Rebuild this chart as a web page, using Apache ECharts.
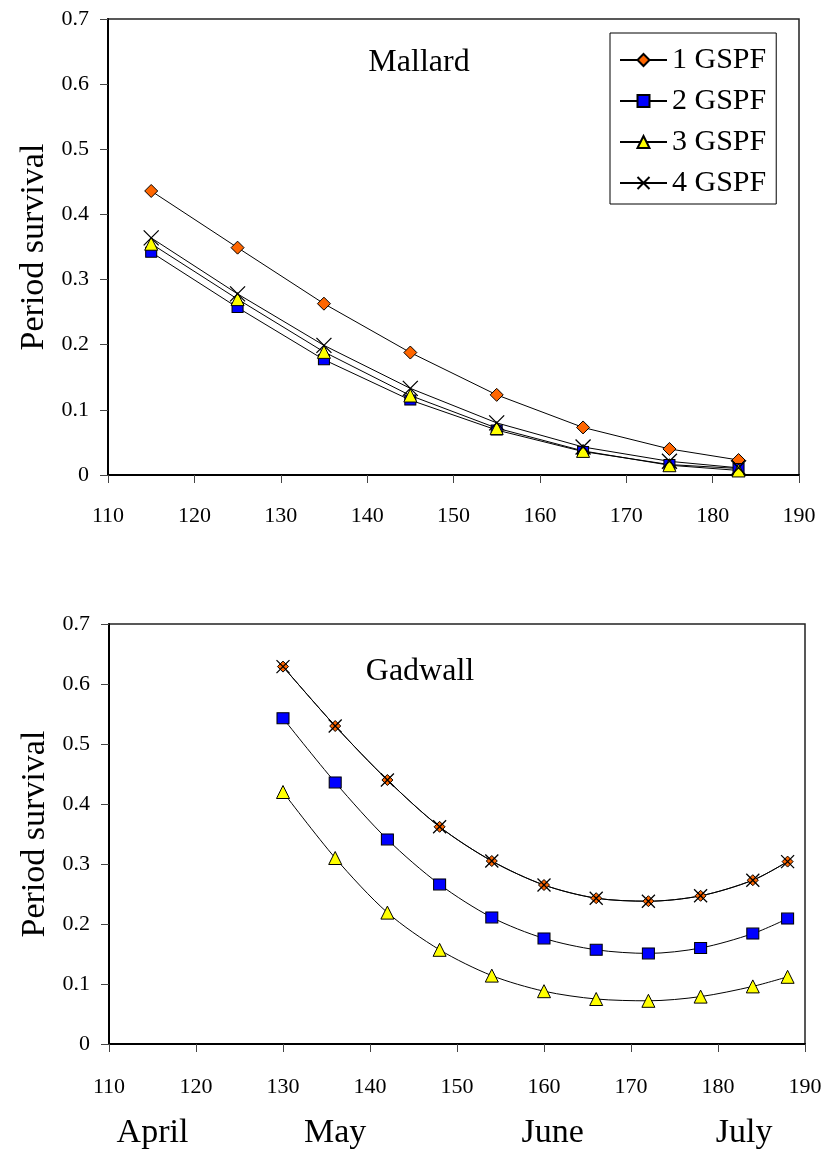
<!DOCTYPE html>
<html>
<head>
<meta charset="utf-8">
<script src="https://cdn.jsdelivr.net/npm/echarts@6/dist/echarts.min.js"></script>
<style>
html,body{margin:0;padding:0;background:#fff;}
#chart{width:825px;height:1163px;}
</style>
</head>
<body>
<div id="chart"></div>
<script>
// ---- data ----
var seriesNames = ['1 GSPF', '2 GSPF', '3 GSPF', '4 GSPF'];

var mallardDays = [115, 125, 135, 145, 155, 165, 175, 183];
var mallard1 = [0.436, 0.349, 0.263, 0.188, 0.123, 0.073, 0.040, 0.023];
var mallard2 = [0.342, 0.257, 0.177, 0.115, 0.069, 0.036, 0.016, 0.010];
var mallard3 = [0.355, 0.270, 0.189, 0.122, 0.072, 0.037, 0.015, 0.007];
var mallard4 = [0.364, 0.278, 0.199, 0.133, 0.080, 0.043, 0.021, 0.011];

var gadwallDays = [130, 136, 142, 148, 154, 160, 166, 172, 178, 184, 188];
var gadwall1 = [0.629, 0.530, 0.440, 0.362, 0.305, 0.265, 0.243, 0.238, 0.247, 0.273, 0.304];
var gadwall2 = [0.543, 0.436, 0.341, 0.266, 0.211, 0.176, 0.157, 0.151, 0.160, 0.184, 0.209];
var gadwall3 = [0.420, 0.310, 0.219, 0.157, 0.114, 0.088, 0.075, 0.072, 0.079, 0.096, 0.112];
var gadwall4 = [0.629, 0.530, 0.440, 0.362, 0.305, 0.265, 0.243, 0.238, 0.247, 0.273, 0.304];

var xTicks = [110, 120, 130, 140, 150, 160, 170, 180, 190];
var yTicks = [0, 0.1, 0.2, 0.3, 0.4, 0.5, 0.6, 0.7];

var monthNames = ['April', 'May', 'June', 'July'];
var monthDays = [115, 136, 161, 183];

var panelTitles = ['Mallard', 'Gadwall'];
var yAxisTitle = 'Period survival';

// ---- chart ----
var FONT = '"Liberation Serif", "Times New Roman", serif';
var XMARK = 'path://M0,0L10,10M10,0L0,10';

function pairs(xs, ys) { return xs.map(function (x, i) { return [x, ys[i]]; }); }

var styles = [
  { symbol: 'diamond', color: '#FF6600' },
  { symbol: 'rect', color: '#0000FF' },
  { symbol: 'triangle', color: '#FFFF00' },
  { symbol: XMARK, color: '#000000' }
];
var mallardSizes = [13, [11, 10], 13, 15];
var gadwallSizes = [11, [12, 11], 13, 13];

function mkSeries(name, idx, data, grid, sizes, smooth) {
  var st = styles[idx];
  return {
    name: name,
    type: 'line',
    xAxisIndex: grid,
    yAxisIndex: grid,
    data: data,
    smooth: smooth,
    symbol: st.symbol,
    symbolSize: sizes[idx],
    showSymbol: true,
    showAllSymbol: true,
    animation: false,
    lineStyle: { color: '#000', width: 1 },
    itemStyle: { color: st.color, borderColor: '#000', borderWidth: idx === 3 ? 1.3 : 1 },
    emphasis: { disabled: true }
  };
}

var mallardData = [mallard1, mallard2, mallard3, mallard4];
var gadwallData = [gadwall1, gadwall2, gadwall3, gadwall4];
var series = [];
seriesNames.forEach(function (n, i) { series.push(mkSeries(n, i, pairs(mallardDays, mallardData[i]), 0, mallardSizes, false)); });
seriesNames.forEach(function (n, i) { series.push(mkSeries(n, i, pairs(gadwallDays, gadwallData[i]), 1, gadwallSizes, 0.3)); });

function xAxisCfg(grid, margin) {
  return {
    type: 'value', gridIndex: grid, min: xTicks[0], max: xTicks[xTicks.length - 1],
    interval: xTicks[1] - xTicks[0],
    axisLine: { show: true, onZero: false, lineStyle: { color: '#000', width: 2 } },
    axisTick: { show: true, inside: false, length: 8, lineStyle: { color: '#444', width: 1 } },
    splitLine: { show: false },
    axisLabel: { color: '#000', fontFamily: FONT, fontSize: 22, margin: margin }
  };
}
function yAxisCfg(grid) {
  return {
    type: 'value', gridIndex: grid, min: yTicks[0], max: yTicks[yTicks.length - 1],
    interval: 0.1,
    name: yAxisTitle, nameLocation: 'middle', nameRotate: 90, nameGap: 54,
    nameTextStyle: { color: '#000', fontFamily: FONT, fontSize: 34 },
    axisLine: { show: true, lineStyle: { color: '#000', width: 2 } },
    axisTick: { show: true, inside: false, length: 8, lineStyle: { color: '#444', width: 1 } },
    splitLine: { show: false },
    axisLabel: { color: '#000', fontFamily: FONT, fontSize: 22, margin: 19,
      formatter: function (v) { return String(Math.round(v * 10) / 10); } }
  };
}

var monthAxis = {
  type: 'value', gridIndex: 1, min: xTicks[0], max: xTicks[xTicks.length - 1],
  position: 'bottom',
  axisLine: { show: false }, axisTick: { show: false }, splitLine: { show: false },
  axisLabel: {
    show: true, customValues: monthDays, color: '#000', fontFamily: FONT, fontSize: 34, margin: 72,
    formatter: function (v) { var i = monthDays.indexOf(v); return i >= 0 ? monthNames[i] : ''; }
  }
};

var option = {
  backgroundColor: '#fff',
  animation: false,
  grid: [
    { left: 108, top: 19, right: 26, height: 456, show: true, borderColor: '#222', borderWidth: 1.5, backgroundColor: 'transparent' },
    { left: 109, top: 624, right: 20, height: 420, show: true, borderColor: '#222', borderWidth: 1.5, backgroundColor: 'transparent' }
  ],
  xAxis: [xAxisCfg(0, 30), xAxisCfg(1, 32), monthAxis],
  yAxis: [yAxisCfg(0), yAxisCfg(1)],
  legend: {
    data: seriesNames,
    orient: 'vertical',
    left: 610, top: 33,
    padding: [12, 10, 6, 9],
    itemGap: 11,
    itemWidth: 47, itemHeight: 15,
    backgroundColor: '#fff',
    borderColor: '#000', borderWidth: 1,
    selectedMode: false,
    textStyle: { color: '#000', fontFamily: FONT, fontSize: 30, padding: [0, 0, 0, 0] }
  },
  title: [
    { text: panelTitles[0], left: 419, top: 63, textAlign: 'center', textVerticalAlign: 'middle', padding: 0,
      textStyle: { color: '#000', fontFamily: FONT, fontSize: 32, fontWeight: 'normal' } },
    { text: panelTitles[1], left: 420, top: 672, textAlign: 'center', textVerticalAlign: 'middle', padding: 0,
      textStyle: { color: '#000', fontFamily: FONT, fontSize: 32, fontWeight: 'normal' } }
  ],
  series: series
};

var chart = echarts.init(document.getElementById('chart'), null, { renderer: 'canvas' });
chart.setOption(option);
</script>
</body>
</html>
